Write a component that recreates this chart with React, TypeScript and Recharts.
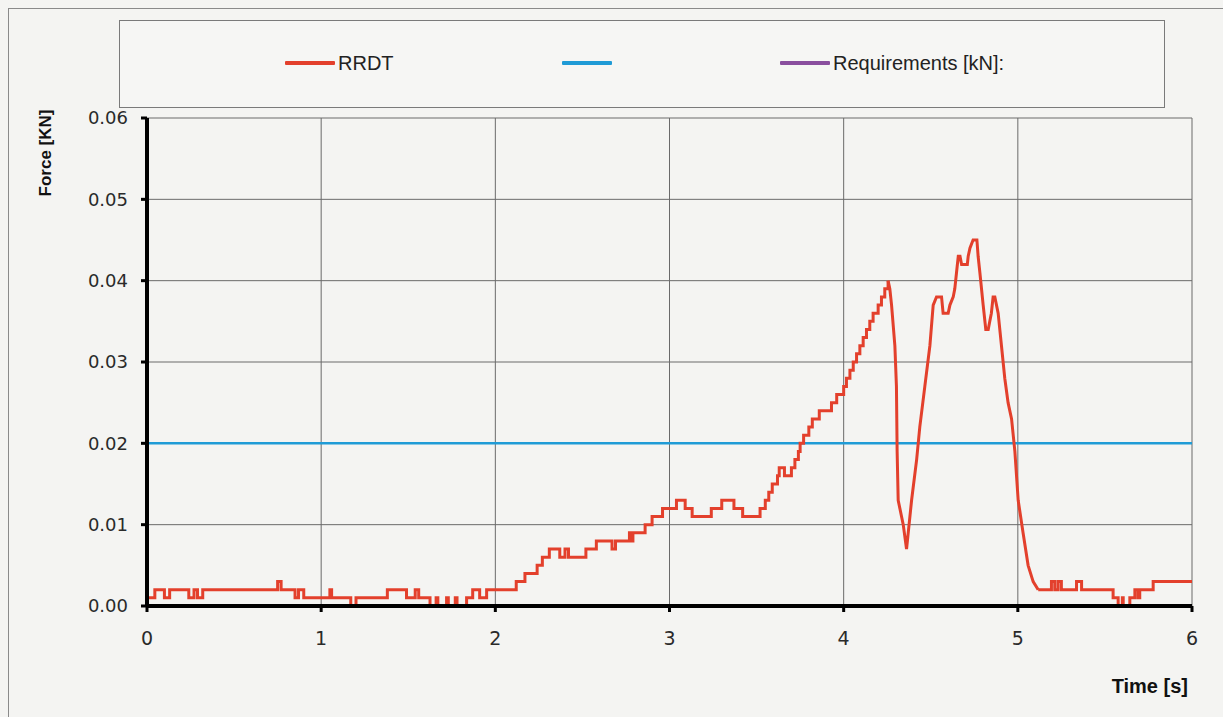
import React from 'react';
import { LineChart, Line, XAxis, YAxis, CartesianGrid } from 'recharts';

// ---- data (time in s, force in kN) ----
const stepTimes = [0, 0.045, 0.10, 0.13, 0.24, 0.27, 0.29, 0.32, 0.75, 0.77, 0.85, 0.87, 0.90, 1.05, 1.06, 1.17, 1.20, 1.38, 1.49, 1.54, 1.56, 1.625, 1.66, 1.67, 1.72, 1.73, 1.77, 1.78, 1.835, 1.87, 1.91, 1.95, 2.12, 2.17, 2.24, 2.27, 2.31, 2.37, 2.40, 2.42, 2.52, 2.58, 2.67, 2.69, 2.77, 2.78, 2.79, 2.86, 2.90, 2.96, 3.04, 3.09, 3.13, 3.24, 3.30, 3.37, 3.42, 3.52, 3.55, 3.57, 3.59, 3.62, 3.63, 3.66, 3.70, 3.72, 3.74, 3.75, 3.77, 3.80, 3.82, 3.86, 3.93, 3.96, 4.00, 4.016, 4.036, 4.055, 4.074, 4.093, 4.112, 4.131, 4.150, 4.169, 4.198, 4.217, 4.236, 4.255];
const stepForces = [0.001, 0.002, 0.001, 0.002, 0.001, 0.002, 0.001, 0.002, 0.003, 0.002, 0.001, 0.002, 0.001, 0.002, 0.001, 0.000, 0.001, 0.002, 0.001, 0.002, 0.001, 0.000, 0.001, 0.000, 0.001, 0.000, 0.001, 0.000, 0.001, 0.002, 0.001, 0.002, 0.003, 0.004, 0.005, 0.006, 0.007, 0.006, 0.007, 0.006, 0.007, 0.008, 0.007, 0.008, 0.009, 0.008, 0.009, 0.010, 0.011, 0.012, 0.013, 0.012, 0.011, 0.012, 0.013, 0.012, 0.011, 0.012, 0.013, 0.014, 0.015, 0.016, 0.017, 0.016, 0.017, 0.018, 0.019, 0.020, 0.021, 0.022, 0.023, 0.024, 0.025, 0.026, 0.027, 0.028, 0.029, 0.030, 0.031, 0.032, 0.033, 0.034, 0.035, 0.036, 0.037, 0.038, 0.039, 0.040];

const peakTimes = [4.255, 4.265, 4.275, 4.294, 4.303, 4.307, 4.313, 4.342, 4.361, 4.390, 4.419, 4.437, 4.466, 4.495, 4.514, 4.533, 4.562, 4.571, 4.600, 4.610, 4.629, 4.638, 4.648, 4.658, 4.668, 4.677, 4.710, 4.715, 4.725, 4.743, 4.765, 4.772, 4.782, 4.801, 4.816, 4.830, 4.839, 4.848, 4.858, 4.868, 4.887, 4.906, 4.925, 4.944, 4.964, 4.983, 5.002, 5.030, 5.059, 5.088, 5.117];
const peakForces = [0.040, 0.039, 0.037, 0.032, 0.027, 0.019, 0.013, 0.010, 0.007, 0.013, 0.018, 0.022, 0.027, 0.032, 0.037, 0.038, 0.038, 0.036, 0.036, 0.037, 0.038, 0.039, 0.041, 0.043, 0.043, 0.042, 0.042, 0.043, 0.044, 0.045, 0.045, 0.043, 0.041, 0.037, 0.034, 0.034, 0.035, 0.036, 0.038, 0.038, 0.036, 0.032, 0.028, 0.025, 0.023, 0.019, 0.013, 0.009, 0.005, 0.003, 0.002];

const tailTimes = [5.117, 5.193, 5.212, 5.231, 5.250, 5.337, 5.366, 5.547, 5.576, 5.600, 5.605, 5.643, 5.672, 5.690, 5.700, 5.777, 6.0];
const tailForces = [0.002, 0.003, 0.002, 0.003, 0.002, 0.003, 0.002, 0.001, 0.000, 0.001, 0.000, 0.001, 0.002, 0.001, 0.002, 0.003, 0.003];

const reqTimes = [0, 6];
const reqForces = [0.02, 0.02];

const xTicks = [0, 1, 2, 3, 4, 5, 6];
const yTicks = [0, 0.01, 0.02, 0.03, 0.04, 0.05, 0.06];

const seriesNames = ['RRDT', '', 'Requirements [kN]:'];
const seriesColors = ['#e3402c', '#1f9bd6', '#8a4f9e'];

const toRows = (ts: number[], vs: number[]) => ts.map((t, i) => ({ t, v: vs[i] }));

const stepData = toRows(stepTimes, stepForces);
const peakData = toRows(peakTimes, peakForces);
const tailData = toRows(tailTimes, tailForces);
const reqData = toRows(reqTimes, reqForces);

const W = 1223;
const H = 717;

const YTitle = () => (
  <text
    x={51}
    y={153}
    transform="rotate(-90 51 153)"
    textAnchor="middle"
    fontFamily="'Liberation Sans', Arial, sans-serif"
    fontWeight="bold"
    fontSize={17}
    fill="#111"
  >
    Force [KN]
  </text>
);

const XTitle = () => (
  <text
    x={1188}
    y={693}
    textAnchor="end"
    fontFamily="'Liberation Sans', Arial, sans-serif"
    fontWeight="bold"
    fontSize={20}
    fill="#111"
  >
    Time [s]
  </text>
);

const legendItems = [
  { lineLeft: 285, textLeft: 338 },
  { lineLeft: 562, textLeft: 615 },
  { lineLeft: 780, textLeft: 833 },
];

export default function App() {
  return (
    <div
      style={{
        position: 'fixed',
        left: 0,
        top: 0,
        width: W,
        height: H,
        overflow: 'hidden',
        background: '#f4f4f2',
      }}
    >
      {/* outer frame */}
      <div
        style={{
          position: 'absolute',
          left: 8,
          top: 8,
          width: 1400,
          height: 900,
          border: '1.5px solid #8a8a8a',
          boxSizing: 'border-box',
        }}
      />
      {/* legend box */}
      <div
        style={{
          position: 'absolute',
          left: 119,
          top: 20,
          width: 1046,
          height: 88,
          border: '1.5px solid #7a7a7a',
          boxSizing: 'border-box',
          background: '#f6f6f4',
        }}
      />
      {legendItems.map((it, i) => (
        <React.Fragment key={i}>
          <div
            style={{
              position: 'absolute',
              left: it.lineLeft,
              top: 61,
              width: 50,
              height: 4,
              background: seriesColors[i],
              borderRadius: 1,
            }}
          />
          <div
            style={{
              position: 'absolute',
              left: it.textLeft,
              top: 51,
              fontFamily: "'Liberation Sans', Arial, sans-serif",
              fontSize: 20,
              lineHeight: '24px',
              color: '#222',
              whiteSpace: 'nowrap',
            }}
          >
            {seriesNames[i]}
          </div>
        </React.Fragment>
      ))}

      <div style={{ position: 'absolute', left: 0, top: 0 }}>
        <LineChart
          width={W}
          height={H}
          margin={{ top: 118, right: 31, bottom: 71, left: 87 }}
        >
          <CartesianGrid stroke="#6a6a6a" strokeWidth={1} />
          <XAxis
            dataKey="t"
            type="number"
            domain={[0, 6]}
            ticks={xTicks}
            allowDuplicatedCategory={false}
            height={40}
            tickSize={6}
            tickMargin={20}
            axisLine={{ stroke: '#000', strokeWidth: 4 }}
            tickLine={{ stroke: '#000', strokeWidth: 3 }}
            tick={{ fontFamily: "'DejaVu Sans', Verdana, sans-serif", fontSize: 19, fill: '#2a2a2a' }}
            label={{ content: XTitle }}
          />
          <YAxis
            dataKey="v"
            type="number"
            domain={[0, 0.06]}
            ticks={yTicks}
            width={60}
            tickSize={6}
            tickMargin={13}
            tickFormatter={(v: number) => v.toFixed(2)}
            axisLine={{ stroke: '#000', strokeWidth: 4 }}
            tickLine={{ stroke: '#000', strokeWidth: 3 }}
            tick={{ fontFamily: "'DejaVu Sans', Verdana, sans-serif", fontSize: 18, fill: '#2a2a2a' }}
            label={{ content: YTitle }}
          />
          <Line
            data={reqData}
            dataKey="v"
            type="linear"
            stroke={seriesColors[1]}
            strokeWidth={2.5}
            dot={false}
            isAnimationActive={false}
          />
          <Line
            data={stepData}
            dataKey="v"
            type="stepAfter"
            stroke={seriesColors[0]}
            strokeWidth={3}
            dot={false}
            isAnimationActive={false}
          />
          <Line
            data={peakData}
            dataKey="v"
            type="linear"
            stroke={seriesColors[0]}
            strokeWidth={3}
            dot={false}
            isAnimationActive={false}
          />
          <Line
            data={tailData}
            dataKey="v"
            type="stepAfter"
            stroke={seriesColors[0]}
            strokeWidth={3}
            dot={false}
            isAnimationActive={false}
          />
        </LineChart>
      </div>
    </div>
  );
}
